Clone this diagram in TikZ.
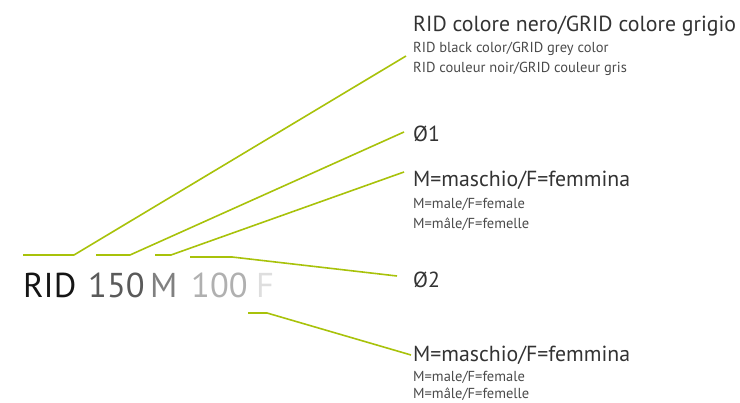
\documentclass[tikz,border=0pt]{standalone}
\usepackage{fontspec}
\setmainfont{PT Sans}
\definecolor{leadgreen}{HTML}{A8C20A}
\definecolor{txtmain}{HTML}{333333}
\definecolor{txtsub}{HTML}{4A4A4A}
\definecolor{cRID}{HTML}{151515}
\definecolor{c150}{HTML}{5A5A5A}
\definecolor{cM}{HTML}{808080}
\definecolor{c100}{HTML}{B0B0B0}
\definecolor{cF}{HTML}{DEDEDE}
\begin{document}
\begin{tikzpicture}[x=1pt,y=-1pt,
  lead/.style={draw=leadgreen,line width=1.6pt,line join=round},
  mainlbl/.style={anchor=base west,inner sep=0pt,text=txtmain,font=\fontsize{21.8}{26}\selectfont},
  sublbl/.style={anchor=base west,inner sep=0pt,text=txtsub,font=\fontsize{14.5}{17}\selectfont},
  codelbl/.style={anchor=base west,inner sep=0pt,font=\fontsize{34.5}{40}\selectfont}]
\useasboundingbox (0,0) rectangle (740,403);
% code
\node[codelbl,text=cRID] (rid) at (23,298) {RID};
\node[codelbl,text=c150] (n150) at (88,298) {150};
\node[codelbl,text=cM] (nM) at (150,298) {M};
\node[codelbl,text=c100] (n100) at (191,298) {100};
\node[codelbl,text=cF] (nF) at (256,298) {F};
% labels
\node[mainlbl] (t1) at (413,32) {RID colore nero/GRID colore grigio};
\node[sublbl] (t1b) at (413,53) {RID black color/GRID grey color};
\node[sublbl] (t1c) at (413,73) {RID couleur noir/GRID couleur gris};
\node[mainlbl] (t2) at (413,142) {Ø1};
\node[mainlbl] (t3) at (413,187) {M=maschio/F=femmina};
\node[sublbl] (t3b) at (413,209) {M=male/F=female};
\node[sublbl] (t3c) at (413,229) {M=mâle/F=femelle};
\node[mainlbl] (t4) at (413,288) {Ø2};
\node[mainlbl] (t5) at (413,362) {M=maschio/F=femmina};
\node[sublbl] (t5b) at (413,382) {M=male/F=female};
\node[sublbl] (t5c) at (413,399) {M=mâle/F=femelle};
% connector points
\coordinate (a1) at (23,255);  \coordinate (b1) at (74,255);  \coordinate (e1) at (406,56);
\coordinate (a2) at (96,255);  \coordinate (b2) at (130,255); \coordinate (e2) at (404,132);
\coordinate (a3) at (155,255); \coordinate (b3) at (171,255); \coordinate (e3) at (404,172);
\coordinate (a4) at (190,257); \coordinate (b4) at (232,257); \coordinate (e4) at (397,276);
\coordinate (a5) at (248,313); \coordinate (b5) at (267,313); \coordinate (e5) at (411,355);
\draw[lead] (a1) -- (b1) -- (e1);
\draw[lead] (a2) -- (b2) -- (e2);
\draw[lead] (a3) -- (b3) -- (e3);
\draw[lead] (a4) -- (b4) -- (e4);
\draw[lead] (a5) -- (b5) -- (e5);
\end{tikzpicture}
\end{document}
